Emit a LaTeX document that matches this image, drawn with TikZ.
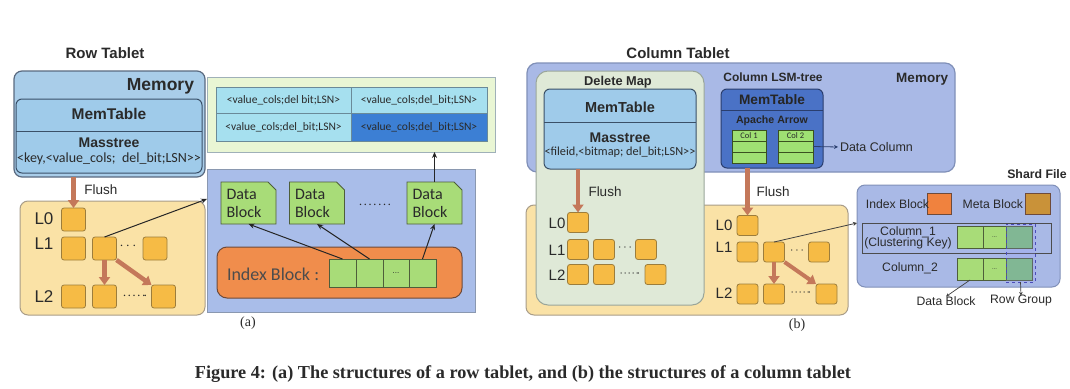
\documentclass[tikz,border=0pt]{standalone}
\usepackage{fontspec}
\setmainfont{Liberation Sans}
\newfontfamily\clb{Carlito}
\newfontfamily\capf{Liberation Serif}
\usetikzlibrary{arrows.meta,shapes.misc,fit}
\definecolor{memA}{HTML}{A9CDE9}
\definecolor{memAd}{HTML}{5A6A80}
\definecolor{mtf}{HTML}{9FCBEA}
\definecolor{mtd}{HTML}{3A5068}
\definecolor{ylw}{HTML}{FAE2A6}
\definecolor{ylwd}{HTML}{A89C88}
\definecolor{sqf}{HTML}{F6BB45}
\definecolor{sqd}{HTML}{9C7D3C}
\definecolor{brn}{HTML}{C4785A}
\definecolor{tblf}{HTML}{E9F6D4}
\definecolor{tbld}{HTML}{9FB0B8}
\definecolor{cellf}{HTML}{A6E0EF}
\definecolor{celld}{HTML}{6A8A98}
\definecolor{celldk}{HTML}{3C7FD4}
\definecolor{perw}{HTML}{A9BDE9}
\definecolor{perwd}{HTML}{8A98B0}
\definecolor{grn}{HTML}{A8DC78}
\definecolor{grnd}{HTML}{4E5E3A}
\definecolor{orng}{HTML}{F08D4C}
\definecolor{orngd}{HTML}{6E4A3A}
\definecolor{memB}{HTML}{A9B9E6}
\definecolor{memBd}{HTML}{8090B8}
\definecolor{dmf}{HTML}{DFE9D7}
\definecolor{dmd}{HTML}{9AA69A}
\definecolor{arrB}{HTML}{4A72C6}
\definecolor{arrBd}{HTML}{2A3E6E}
\definecolor{colg}{HTML}{9FE073}
\definecolor{colgd}{HTML}{3A5020}
\definecolor{idxo}{HTML}{F0823E}
\definecolor{metab}{HTML}{C99239}
\definecolor{grnk}{HTML}{7CBF7A}
\definecolor{txt}{HTML}{2A2A2A}
\begin{document}
\begin{tikzpicture}[x=1pt,y=-1pt,
  every node/.style={inner sep=0pt, outer sep=0pt, text=txt},
  ttl/.style={font=\fontsize{15}{17}\selectfont\bfseries},
  lvl/.style={font=\fontsize{17}{19}\selectfont},
  lvls/.style={font=\fontsize{15}{17}\selectfont},
  lab/.style={font=\fontsize{13.5}{15}\selectfont},
  sqa/.style={draw=sqd, fill=sqf, rounded corners=2.5pt, line width=.8pt, minimum width=24pt, minimum height=23pt},
  sqb/.style={sqa, minimum width=21pt, minimum height=20pt},
  fat/.style={draw=brn, line width=4.5pt, -{Triangle[width=11pt,length=8pt]}},
  thinarr/.style={draw=black!85, line width=1pt, -{Stealth[length=6pt,width=5pt]}},
  cell/.style={draw=celld, fill=cellf, line width=.6pt},
  ctxt/.style={font=\clb\fontsize{11.5}{13}\selectfont},
  datab/.style={chamfered rectangle, chamfered rectangle corners=north east, chamfered rectangle xsep=4pt, chamfered rectangle ysep=4pt, draw=grnd, fill=grn, line width=.8pt, minimum width=55pt, minimum height=42pt, align=left, text width=44pt, font=\clb\fontsize{16}{18}\selectfont},
  gcell/.style={draw=grnd, fill=grn, line width=.8pt},
  ccell/.style={draw=colgd, fill=colg, line width=.6pt},
  sml/.style={font=\fontsize{12.2}{14}\selectfont}
]
\useasboundingbox[fill=white] (0,0) rectangle (1070,388);

% ================= (a) Row Tablet =================
\node[ttl] (rowt) at (105,53) {Row Tablet};
\node[fit={(14,71)(205,177)}, draw=memAd, fill=memA, rounded corners=8pt, line width=1.2pt] (memA) {};
\node[anchor=east, font=\fontsize{17.5}{19}\selectfont\bfseries] (memAl) at (194,86) {Memory};
\node[fit={(16,99)(202,173)}, draw=mtd, fill=mtf, rounded corners=6pt, line width=1pt] (mtA) {};
\draw[mtd, line width=1pt] (mtA.west |- 0,131) -- (mtA.east |- 0,131);
\node[font=\fontsize{15.5}{17}\selectfont\bfseries] (mtAl) at (109,114) {MemTable};
\node[font=\fontsize{14}{16}\selectfont\bfseries] (msA) at (109,143) {Masstree};
\node[font=\clb\fontsize{14}{16}\selectfont] (kvA) at (109,159) {<key,<value\_cols;\ \ del\_bit;LSN>>};

\node[fit={(20,201)(205,315)}, draw=ylwd, fill=ylw, rounded corners=8pt, line width=1pt] (lsmA) {};
\node[lab] (flA) at (101,190) {Flush};

\node[lvl] (a0l) at (44,219) {L0};
\node[lvl] (a1l) at (44,244) {L1};
\node[lvl] (a2l) at (44,297) {L2};
\node[sqa] (a0) at (73.5,219.5) {};
\node[sqa] (a11) at (73.5,248.5) {};
\node[sqa] (a12) at (104.5,248.5) {};
\node[lvls] (a1d) at (128,246) {$\cdots$};
\node[sqa] (a13) at (155,248.5) {};
\node[sqa] (a21) at (73.5,296.5) {};
\node[sqa] (a22) at (104.5,296.5) {};
\node[lvls] (a2d) at (135,296) {$\cdot\!\cdot\!\cdot\!\cdot\!\cdot\!\cdot$};
\node[sqa] (a23) at (163.5,296.5) {};
\draw[fat] (memA.south -| a0) -- (a0.north);
\draw[fat] (a12.south) -- (a22.north);
\draw[fat] (a12.south east) -- (a23.north west);

% table
\node[fit={(207,77)(495,152)}, draw=tbld, fill=tblf, line width=1pt] (tbl) {};
\node[cell, fit={(216,87)(351,113)}] (c11) {};
\node[cell, fit={(351,87)(487,113)}] (c12) {};
\node[cell, fit={(216,113)(351,141)}] (c21) {};
\node[cell, fit={(351,113)(487,141)}, fill=celldk] (c22) {};
\node[ctxt] (t11) at (c11.center) {<value\_cols;del bit;LSN>};
\node[ctxt] (t12) at (c12.center) {<value\_cols;del\_bit;LSN>};
\node[ctxt] (t21) at (c21.center) {<value\_cols;del\_bit;LSN>};
\node[ctxt] (t22) at (c22.center) {<value\_cols;del\_bit;LSN>};

% data region
\node[fit={(207,169)(475,312)}, draw=perwd, fill=perw, line width=1pt] (dbx) {};
\coordinate (dbxin) at (207,199);
\draw[thinarr] (a12.north) -- (dbxin);
\node[datab] (db1) at (248.5,203) {Data\\Block};
\node[datab] (db2) at (317,203) {Data\\Block};
\node[lvls] (dbd) at (375,205) {$\cdot\!\cdot\!\cdot\!\cdot\!\cdot\!\cdot\!\cdot$};
\node[datab] (db3) at (434.5,203) {Data\\Block};
\node[fit={(217,247)(462,298)}, draw=orngd, fill=orng, rounded corners=10pt, line width=1pt] (ib) {};
\node[anchor=west, font=\clb\fontsize{18}{20}\selectfont, text=black!70] (ibl) at (227,274) {Index Block :};
\node[gcell, fit={(329,259)(356,287)}] (i1) {};
\node[gcell, fit={(356,259)(383,287)}] (i2) {};
\node[gcell, fit={(383,259)(409,287)}] (i3) {};
\node[gcell, fit={(409,259)(436,287)}] (i4) {};
\node[font=\fontsize{8}{9}\selectfont] (i3l) at (i3.center) {...};
\draw[thinarr] (i1.north) -- (db1.south);
\draw[thinarr] (i2.north) -- (db2.south);
\draw[thinarr] (i4.north) -- (db3.south);
\draw[thinarr] (db3.north) -- (db3.north |- tbl.south);
\node[font=\capf\fontsize{14}{16}\selectfont] (capa) at (248,323) {(a)};

% ================= (b) Column Tablet =================
\node[ttl] (colt) at (678,53) {Column Tablet};
\node[fit={(527,63)(955,172)}, draw=memBd, fill=memB, rounded corners=10pt, line width=1.2pt] (memB) {};
\node[anchor=east, font=\fontsize{13.5}{15}\selectfont\bfseries] (memBl) at (948,79) {Memory};
\node[fit={(526,205)(848,315)}, draw=ylwd, fill=ylw, rounded corners=8pt, line width=1pt] (lsmB) {};
\node[fit={(536,71)(704,305)}, draw=dmd, fill=dmf, rounded corners=12pt, line width=1pt] (dm) {};
\node[font=\fontsize{12.8}{14}\selectfont\bfseries] (dml) at (618,82) {Delete Map};
\node[fit={(544,89)(696,169)}, draw=mtd, fill=mtf, rounded corners=6pt, line width=1pt] (mtB) {};
\draw[mtd, line width=1pt] (mtB.west |- 0,122) -- (mtB.east |- 0,122);
\node[font=\fontsize{14.5}{16}\selectfont\bfseries] (mtBl) at (620,107) {MemTable};
\node[font=\fontsize{14}{16}\selectfont\bfseries] (msB) at (620,138) {Masstree};
\node[font=\clb\fontsize{12.3}{14}\selectfont] (kvB) at (620,152) {<fileid,<bitmap;\ del\_bit;LSN>>};

\node[lab] (flB) at (605,192) {Flush};
\node[lvls] (b0l) at (557,223) {L0};
\node[lvls] (b1l) at (557,250) {L1};
\node[lvls] (b2l) at (557,275) {L2};
\node[sqb] (b0) at (578,222.5) {};
\node[sqb] (b11) at (578,249.5) {};
\node[sqb] (b12) at (604,249.5) {};
\node[font=\fontsize{12}{13}\selectfont] (b1d) at (625,248) {$\cdots$};
\node[sqb] (b13) at (646,249.5) {};
\node[sqb] (b21) at (578,274.5) {};
\node[sqb] (b22) at (604,274.5) {};
\node[font=\fontsize{12}{13}\selectfont] (b2d) at (630,273.5) {$\cdot\!\cdot\!\cdot\!\cdot\!\cdot\!\cdot$};
\node[sqb] (b23) at (655.5,274.5) {};
\draw[fat] (mtB.south -| b0) -- (b0.north);

% column lsm
\node[font=\fontsize{12}{14}\selectfont\bfseries] (clsm) at (773,77) {Column LSM-tree};
\node[fit={(721,89)(823,168)}, draw=arrBd, fill=arrB, rounded corners=6pt, line width=1pt] (mtC) {};
\draw[arrBd, line width=.8pt] (mtC.west |- 0,110) -- (mtC.east |- 0,110);
\node[font=\fontsize{13.7}{15}\selectfont\bfseries, text=black!85] (mtCl) at (772,100) {MemTable};
\node[font=\fontsize{10.6}{12}\selectfont\bfseries, text=black!85] (aa) at (772,121) {Apache Arrow};
\node[ccell, fit={(732,130)(766,141)}] (k1a) {};
\node[ccell, fit={(732,141)(766,152)}] (k1b) {};
\node[ccell, fit={(732,152)(766,163)}] (k1c) {};
\node[ccell, fit={(778,130)(813,141)}] (k2a) {};
\node[ccell, fit={(778,141)(813,152)}] (k2b) {};
\node[ccell, fit={(778,152)(813,163)}] (k2c) {};
\node[font=\clb\fontsize{8.5}{9}\selectfont] (k1t) at (k1a.center) {Col 1};
\node[font=\clb\fontsize{8.5}{9}\selectfont] (k2t) at (k2a.center) {Col 2};
\coordinate (dcend) at (838,147);
\draw[draw=arrBd, line width=.8pt, -{Stealth[length=4pt,width=4pt]}] (k2b.east) -- (dcend);
\node[anchor=west, font=\fontsize{12.5}{14}\selectfont] (dcl) at (840,147) {Data Column};

\node[lab] (flC) at (773,192) {Flush};
\node[lvls] (r0l) at (724,225) {L0};
\node[lvls] (r1l) at (724,247) {L1};
\node[lvls] (r2l) at (724,293) {L2};
\node[sqb] (r0) at (747.5,225.5) {};
\node[sqb] (r11) at (747.5,252) {};
\node[sqb] (r12) at (774,252) {};
\node[font=\fontsize{12}{13}\selectfont] (r1d) at (797,251) {$\cdots$};
\node[sqb] (r13) at (819,252) {};
\node[sqb] (r21) at (747.5,294) {};
\node[sqb] (r22) at (774,294) {};
\node[font=\fontsize{12}{13}\selectfont] (r2d) at (801,293) {$\cdot\!\cdot\!\cdot\!\cdot\!\cdot\!\cdot$};
\node[sqb] (r23) at (826.5,294) {};
\draw[fat] (mtC.south -| r0) -- (r0.north);
\draw[fat, line width=4pt] (r12.south) -- (r22.north);
\draw[fat, line width=4pt] (r12.south east) -- (r23.north west);
\node[font=\capf\fontsize{14}{16}\selectfont] (capb) at (797,325) {(b)};

% shard file
\node[font=\fontsize{12.3}{14}\selectfont\bfseries] (sft) at (1037,174) {Shard File};
\node[fit={(857,185)(1060,287)}, draw=memBd, fill=memB, rounded corners=8pt, line width=1pt] (sf) {};
\coordinate (sfin) at (857,223);
\draw[draw=black!75, line width=.8pt, -{Stealth[length=4pt,width=4pt]}] (r12.north) -- (sfin);
\node[fit={(927,193)(951,214)}, draw=orngd, fill=idxo, line width=.6pt] (ibx) {};
\node[anchor=east, sml] (ibxl) at (929,204) {Index Block};
\node[fit={(1025,193)(1050,214)}, draw=orngd, fill=metab, line width=.6pt] (mbx) {};
\node[anchor=east, sml] (mbxl) at (1023,204) {Meta Block};
\node[fit={(862,223)(1051,253)}, draw=black!70, line width=.9pt] (row1) {};
\node[sml, align=center, font=\fontsize{12.2}{11.5}\selectfont] (c1l) at (908,238) {Column\_1\\(Clustering Key)};
\node[sml] (c2l) at (910,268) {Column\_2};
\node[gcell, fit={(957,226)(983,248)}] (s11) {};
\node[gcell, fit={(983,226)(1006,248)}] (s12) {};
\node[gcell, fit={(1006,226)(1032,248)}, fill=grnk] (s13) {};
\node[gcell, fit={(957,258)(983,280)}] (s21) {};
\node[gcell, fit={(983,258)(1006,280)}] (s22) {};
\node[gcell, fit={(1006,258)(1032,280)}, fill=grnk] (s23) {};
\node[font=\fontsize{6}{7}\selectfont] (s12l) at (s12.center) {...};
\node[font=\fontsize{6}{7}\selectfont] (s22l) at (s22.center) {...};
\node[fit={(1006,224)(1035,282)}, draw=blue!60!black!70, dashed, fill=blue!40, fill opacity=.2, line width=.8pt] (rg) {};
\node[sml] (dbl) at (946,301) {Data Block};
\node[sml] (rgl) at (1021,301) {Row Group};
\draw[draw=black!75, line width=.7pt, -{Stealth[length=3.5pt,width=3.5pt]}] (s21.south) -- (dbl.north);
\draw[draw=black!75, line width=.7pt, -{Stealth[length=3.5pt,width=3.5pt]}] (rg.south) -- (rgl.north);

% caption
\node[font=\capf\bfseries] (cap) at (523,374) {\resizebox{656pt}{!}{Figure 4: (a) The structures of a row tablet, and (b) the structures of a column tablet}};
\end{tikzpicture}
\end{document}
